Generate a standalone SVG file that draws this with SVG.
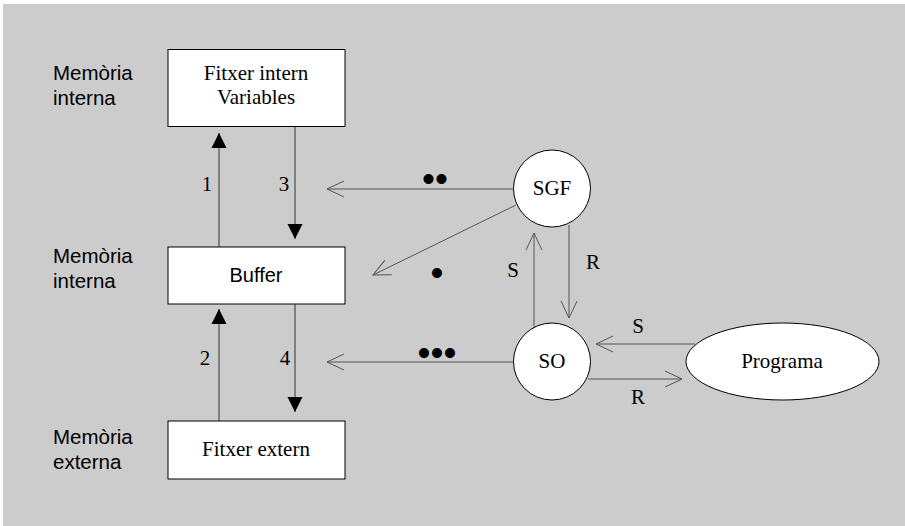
<svg xmlns="http://www.w3.org/2000/svg" width="905" height="526" viewBox="0 0 905 526">
<defs>
<style>
.bg{fill:#cccccc}
.box{fill:#ffffff;stroke:#000000;stroke-width:1}
.lbl{font-family:"Liberation Sans",Arial,sans-serif;font-size:20.5px;fill:#000}
.t{font-family:"Liberation Serif","Times New Roman",serif;font-size:21px;fill:#000}
.ts{font-family:"Liberation Sans",Arial,sans-serif;font-size:20px;fill:#000}
.dot{font-family:"Liberation Sans",Arial,sans-serif;font-size:37px;fill:#000}
.c{text-anchor:middle}
.ln{stroke:#333333;stroke-width:1;fill:none}
.lo{stroke:#555555;stroke-width:1;fill:none}
</style>
<marker id="fa" markerUnits="userSpaceOnUse" viewBox="-16 -8 17 16" refX="0" refY="0" markerWidth="17" markerHeight="16" orient="auto" overflow="visible">
<polygon points="-15,-7.5 0,0 -15,7.5" fill="#000"/>
</marker>
<marker id="oa" markerUnits="userSpaceOnUse" viewBox="-18 -9 19 18" refX="0" refY="0" markerWidth="19" markerHeight="18" orient="auto" overflow="visible">
<path d="M-17,-8 L0,0 L-17,8" fill="none" stroke="#555555" stroke-width="1"/>
</marker>
</defs>
<rect class="bg" x="3" y="4" width="902" height="522"/>

<g id="labels">
<text class="lbl" x="53" y="80">Memòria</text>
<text class="lbl" x="53" y="105">interna</text>
<text class="lbl" x="53" y="263">Memòria</text>
<text class="lbl" x="53" y="288">interna</text>
<text class="lbl" x="53" y="444">Memòria</text>
<text class="lbl" x="53" y="469">externa</text>
</g>

<g id="connectors">
<line class="ln" x1="219" y1="247" x2="219" y2="133" marker-end="url(#fa)"/>
<line class="ln" x1="295" y1="127" x2="295" y2="239" marker-end="url(#fa)"/>
<line class="ln" x1="219" y1="421" x2="219" y2="309" marker-end="url(#fa)"/>
<line class="ln" x1="295" y1="304" x2="295" y2="412" marker-end="url(#fa)"/>
<line class="lo" x1="513" y1="189" x2="327" y2="189" marker-end="url(#oa)"/>
<line class="lo" x1="516" y1="205" x2="373" y2="275" marker-end="url(#oa)"/>
<line class="lo" x1="513" y1="362" x2="327" y2="362" marker-end="url(#oa)"/>
<line class="lo" x1="534" y1="327" x2="534" y2="233" marker-end="url(#oa)"/>
<line class="lo" x1="569" y1="225" x2="569" y2="318" marker-end="url(#oa)"/>
<line class="lo" x1="695" y1="344" x2="596" y2="344" marker-end="url(#oa)"/>
<line class="lo" x1="588" y1="379" x2="682" y2="379" marker-end="url(#oa)"/>
<text class="t" x="207" y="191" text-anchor="middle">1</text>
<text class="t" x="284" y="191" text-anchor="middle">3</text>
<text class="t" x="205" y="365" text-anchor="middle">2</text>
<text class="t" x="285" y="365" text-anchor="middle">4</text>
<text class="t" x="513" y="277" text-anchor="middle">S</text>
<text class="t" x="593" y="269" text-anchor="middle">R</text>
<text class="t" x="638" y="333" text-anchor="middle">S</text>
<text class="t" x="638" y="404" text-anchor="middle">R</text>
<text class="dot" x="435" y="191" text-anchor="middle">••</text>
<text class="dot" x="437" y="285" text-anchor="middle">•</text>
<text class="dot" x="437" y="365" text-anchor="middle">•••</text>
</g>

<g id="fitxer-intern">
<rect class="box" x="168" y="49.5" width="177" height="77"/>
<text class="t c" x="256" y="80">Fitxer intern</text>
<text class="t c" x="256" y="104">Variables</text>
</g>

<g id="buffer">
<rect class="box" x="168" y="247" width="177" height="57"/>
<text class="ts c" x="256" y="282">Buffer</text>
</g>

<g id="fitxer-extern">
<rect class="box" x="168" y="421" width="177" height="58"/>
<text class="t c" x="256" y="456">Fitxer extern</text>
</g>

<g id="sgf">
<circle class="box" cx="552" cy="188.5" r="38.5"/>
<text class="t c" x="552" y="195">SGF</text>
</g>

<g id="so">
<circle class="box" cx="552" cy="361.5" r="38.5"/>
<text class="t c" x="552" y="368">SO</text>
</g>

<g id="programa">
<ellipse class="box" cx="782.5" cy="361.5" rx="96.5" ry="38.5"/>
<text class="t c" x="782" y="368">Programa</text>
</g>
</svg>
